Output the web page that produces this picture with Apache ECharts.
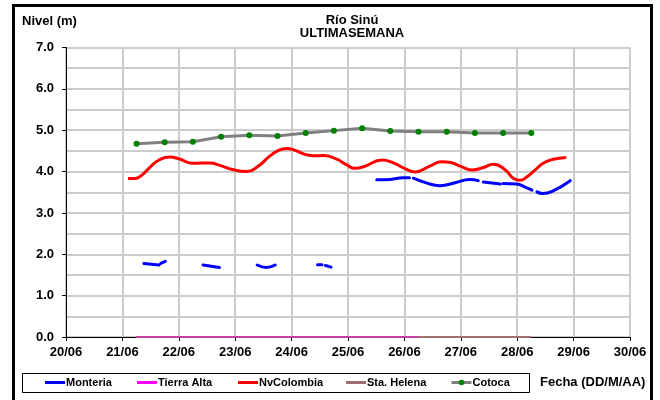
<!DOCTYPE html>
<html>
<head>
<meta charset="utf-8">
<script src="https://cdn.jsdelivr.net/npm/echarts@6/dist/echarts.min.js"></script>
<style>html,body{margin:0;padding:0;background:#fff;}#c{width:660px;height:400px;}</style>
</head>
<body>
<div id="c"></div>
<script>
// Tick labels (x axis: days since 20/06 00:00)
const dayLabels = ['20/06','21/06','22/06','23/06','24/06','25/06','26/06','27/06','28/06','29/06','30/06'];
const yTicks = [0,1,2,3,4,5,6,7];

// Series values: [day offset, level (m)]; null breaks the line
const monteria = [
  [1.38,1.78],[1.65,1.74],null,
  [1.68,1.78],[1.76,1.83],null,
  [2.43,1.74],[2.72,1.68],null,
  [3.39,1.74],[3.55,1.68],[3.71,1.74],null,
  [4.46,1.75],[4.54,1.75],null,
  [4.60,1.73],[4.70,1.69],null,
  [5.51,3.80],[5.75,3.81],[5.98,3.85],[6.09,3.85],null,
  [6.16,3.84],[6.40,3.72],[6.63,3.66],[6.90,3.73],[7.16,3.81],[7.31,3.78],null,
  [7.40,3.75],[7.70,3.70],null,
  [7.75,3.71],[7.99,3.70],[8.13,3.63],[8.26,3.55],null,
  [8.35,3.51],[8.45,3.47],[8.62,3.52],[8.94,3.78]
];
const tierraAlta = [[1.25,0],[2.25,0],[3.25,0],[4.25,0],[5.25,0],[6.25,0]];
const nvColombia = [
  [1.10,3.83],[1.22,3.83],[1.35,3.92],[1.50,4.12],[1.65,4.28],[1.84,4.35],[2.00,4.31],
  [2.25,4.20],[2.55,4.21],[2.73,4.15],[2.95,4.05],[3.20,4.00],[3.40,4.12],[3.60,4.36],
  [3.75,4.50],[3.91,4.56],[4.05,4.52],[4.25,4.41],[4.40,4.38],[4.56,4.39],[4.80,4.30],
  [4.98,4.16],[5.12,4.08],[5.30,4.13],[5.60,4.28],[5.79,4.22],[6.00,4.08],[6.19,3.99],
  [6.45,4.13],[6.66,4.24],[6.82,4.22],[6.99,4.13],[7.20,4.04],[7.40,4.10],[7.58,4.18],
  [7.78,4.05],[7.95,3.82],[8.05,3.79],[8.18,3.88],[8.32,4.04],[8.46,4.20],[8.62,4.29],[8.87,4.34]
];
const staHelena = [[1.25,0],[2.25,0],[3.25,0],[4.25,0],[5.25,0],[6.25,0],[7.25,0],[8.25,0]];
const cotoca = [
  [1.25,4.67],[1.75,4.71],[2.25,4.72],[2.75,4.84],[3.25,4.88],[3.75,4.86],[4.25,4.93],
  [4.75,4.99],[5.25,5.05],[5.75,4.98],[6.25,4.96],[6.75,4.96],[7.25,4.93],[7.75,4.93],[8.25,4.93]
];

const FONT = 'Liberation Sans, Arial, sans-serif';
const chart = echarts.init(document.getElementById('c'), null, {renderer:'canvas'});

function leg(name, left, extra) {
  return Object.assign({
    data: [{name: name, icon: 'rect'}], left: left, top: 377, padding: 0, itemWidth: 20, itemHeight: 3, itemGap: 0,
    textStyle: {fontFamily: FONT, fontWeight: 'bold', fontSize: 11, color: '#000', padding: [0,0,0,-4]},
    selectedMode: false
  }, extra || {});
}

chart.setOption({
  animation: false,
  backgroundColor: '#fff',
  title: {
    text: 'Río Sinú\nULTIMASEMANA',
    left: 347, top: 9, textAlign: 'center',
    textStyle: {fontFamily: FONT, fontWeight: 'bold', fontSize: 13, lineHeight: 13, color: '#000'}
  },
  grid: {left: 66, right: 30, top: 47.5, bottom: 63, containLabel: false},
  legend: [
    leg('Monteria', 45),
    leg('Tierra Alta', 137),
    leg('NvColombia', 238),
    leg('Sta. Helena', 346),
    leg('Cotoca', 450, {data: ['Cotoca'], top: 377, itemHeight: 7,
      lineStyle: {color: '#808080', width: 3}, itemStyle: {color: '#008000'}})
  ],
  xAxis: {
    type: 'value', min: 0, max: 10, interval: 1,
    axisLine: {show: true, lineStyle: {color: '#000', width: 1}},
    axisTick: {show: true, length: 4, lineStyle: {color: '#000'}},
    axisLabel: {
      formatter: v => dayLabels[Math.round(v)] || '',
      fontFamily: FONT, fontWeight: 'bold', fontSize: 13, color: '#000', margin: 9
    },
    splitLine: {show: true, lineStyle: {color: '#cccccc', width: 2}}
  },
  yAxis: {
    type: 'value', min: 0, max: 7, interval: 1,
    axisLine: {show: true, lineStyle: {color: '#000', width: 1}},
    axisTick: {show: true, length: 4, lineStyle: {color: '#000'}},
    axisLabel: {
      formatter: v => yTicks.includes(v) ? v.toFixed(1) : '',
      fontFamily: FONT, fontWeight: 'bold', fontSize: 13, color: '#000', margin: 12
    },
    splitLine: {show: true, lineStyle: {color: '#cccccc', width: 2}},
    minorTick: {show: false, splitNumber: 2},
    minorSplitLine: {show: true, lineStyle: {color: '#cccccc', width: 2}}
  },
  series: [
    {name: 'Sta. Helena', type: 'line', data: staHelena, symbol: 'none', z: 5,
     color: '#a07070', lineStyle: {color: '#a07070', width: 2}},
    {name: 'Tierra Alta', type: 'line', data: tierraAlta, symbol: 'none', z: 5,
     color: '#ff00ff', lineStyle: {color: '#c040a0', width: 2}},
    {name: 'Cotoca', type: 'line', data: cotoca, symbol: 'circle', symbolSize: 6,
     itemStyle: {color: '#008000'}, lineStyle: {color: '#808080', width: 3}},
    {name: 'NvColombia', type: 'line', data: nvColombia, symbol: 'none', smooth: 0.5,
     color: '#ff0000', lineStyle: {color: '#ff0000', width: 3}},
    {name: 'Monteria', type: 'line', data: monteria, symbol: 'none', smooth: 0.5, connectNulls: false,
     color: '#0000ff', lineStyle: {color: '#0000ff', width: 3, cap: 'round'}}
  ],
  graphic: [
    {type: 'rect', shape: {x: 13.5, y: 5.5, width: 638, height: 400}, style: {fill: 'none', stroke: '#000', lineWidth: 3}, silent: true},
    {type: 'rect', shape: {x: 22.5, y: 373.5, width: 507, height: 19}, style: {fill: 'none', stroke: '#000', lineWidth: 1}, silent: true, z: -1},
    {type: 'text', left: 22, top: 15, style: {text: 'Nivel (m)', font: 'bold 13px ' + FONT, fill: '#000'}},
    {type: 'text', left: 540, top: 376, style: {text: 'Fecha (DD/M/AA)', font: 'bold 13px ' + FONT, fill: '#000'}}
  ]
});
</script>
</body>
</html>
